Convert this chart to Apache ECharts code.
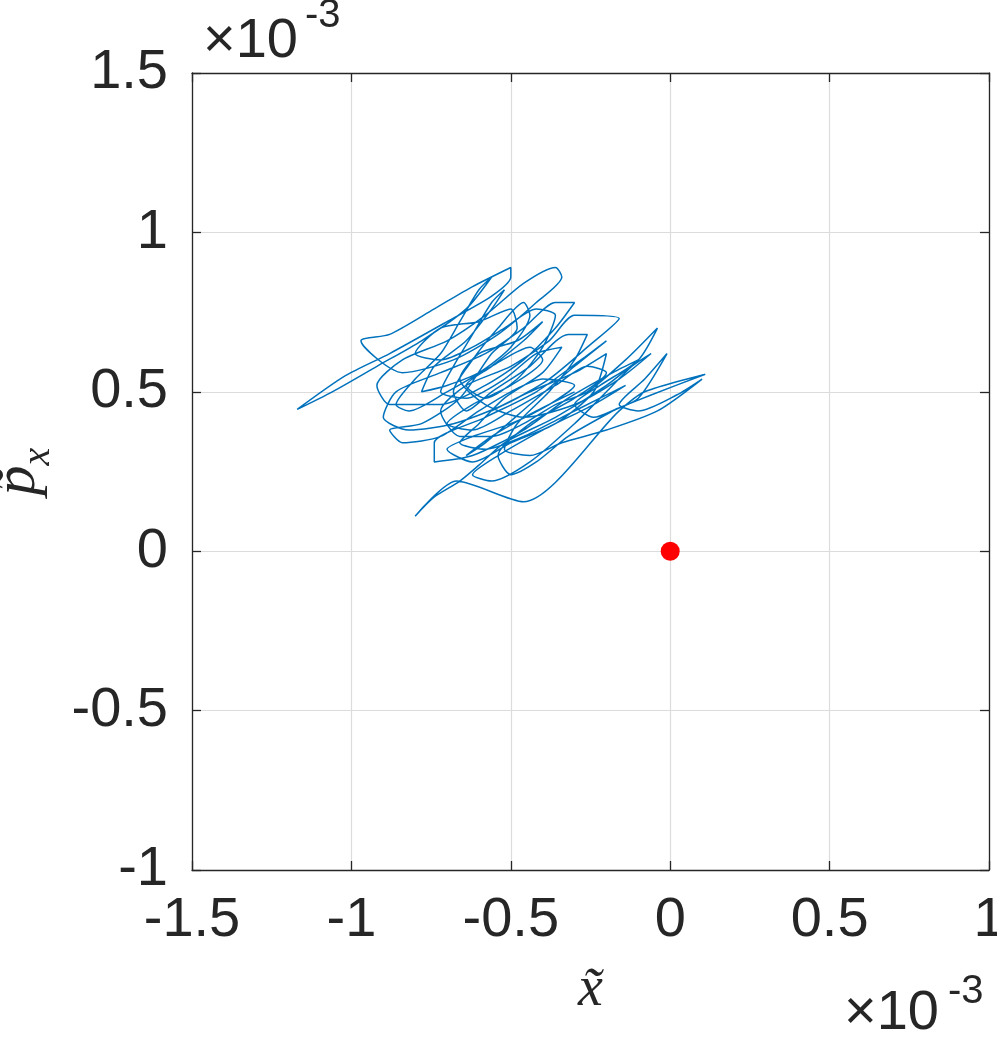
<!DOCTYPE html>
<html>
<head>
<meta charset="utf-8">
<script src="https://cdn.jsdelivr.net/npm/echarts@6/dist/echarts.min.js"></script>
<style>
  html, body { margin: 0; padding: 0; background: #fff; }
  #chart { width: 997px; height: 1039px; }
</style>
</head>
<body>
<div id="chart"></div>
<script>
// values in units of 1e-3
const xTicks = [-1.5, -1, -0.5, 0, 0.5, 1];
const yTicks = [-1, -0.5, 0, 0.5, 1, 1.5];

const trajX = [
  -0.30, -0.42, -0.56, -0.64, -0.58, -0.44, -0.30, -0.20, -0.28, -0.42,
  -0.58, -0.74, -0.74, -0.62, -0.46, -0.32, -0.18, -0.10, -0.20, -0.36,
  -0.52, -0.60, -0.66, -0.74, -0.80, -0.67, -0.46, -0.16, -0.08, 0.11,
  -0.06, -0.16, -0.24, -0.30, -0.22, -0.10, -0.04, -0.14, -0.26, -0.36,
  -0.46, -0.56, -0.66, -0.72, -0.64, -0.50, -0.38, -0.30, -0.16, -0.26,
  -0.38, -0.52, -0.68, -0.82, -0.90, -0.86, -0.72, -0.58, -0.46, -0.36,
  -0.30, -0.36, -0.46, -0.58, -0.72, -0.88, -0.92, -0.84, -0.70, -0.58,
  -0.46, -0.36, -0.34, -0.42, -0.54, -0.68, -0.84, -0.97, -0.88, -0.74,
  -0.62, -0.50, -0.50, -0.56, -0.70, -0.88, -1.02, -1.17, -1.06, -0.92,
  -0.78, -0.64, -0.56, -0.60, -0.66, -0.72, -0.80, -0.86, -0.82, -0.70,
  -0.56, -0.44, -0.40, -0.50, -0.62, -0.70, -0.62, -0.50, -0.36, -0.26,
  -0.20, -0.30, -0.44, -0.54, -0.50, -0.42, -0.32, -0.18, -0.10, -0.01,
  -0.08, -0.16, -0.10, 0.02, 0.10, -0.04, -0.20, -0.34, -0.44, -0.52,
  -0.48, -0.38, -0.30, -0.26, -0.32, -0.44, -0.56, -0.64, -0.68, -0.62,
  -0.54, -0.46, -0.44, -0.50, -0.60, -0.70, -0.78, -0.74, -0.64, -0.56,
  -0.52, -0.56, -0.62, -0.68, -0.72, -0.64, -0.52, -0.42, -0.34, -0.40,
  -0.52, -0.60, -0.66, -0.58, -0.46, -0.34, -0.22, -0.14, -0.24, -0.40,
  -0.54, -0.62, -0.56, -0.44, -0.30, -0.20, -0.12, -0.06, -0.16, -0.30,
  -0.46, -0.58, -0.66, -0.60, -0.48, -0.40, -0.46, -0.56, -0.64, -0.58,
  -0.48, -0.40, -0.36, -0.42, -0.52, -0.62, -0.72, -0.80, -0.72, -0.60,
  -0.50, -0.48, -0.56, -0.66, -0.78, -0.88, -0.84, -0.72, -0.60, -0.50,
  -0.40, -0.30, -0.38, -0.50, -0.62, -0.70, -0.62, -0.50, -0.36, -0.24,
  -0.20, -0.30, -0.44, -0.56
];
const trajY = [
  0.50, 0.44, 0.36, 0.30, 0.34, 0.46, 0.58, 0.66, 0.60, 0.50,
  0.42, 0.34, 0.28, 0.30, 0.38, 0.48, 0.56, 0.60, 0.52, 0.42,
  0.34, 0.27, 0.22, 0.17, 0.11, 0.22, 0.155, 0.44, 0.50, 0.555,
  0.49, 0.45, 0.42, 0.46, 0.52, 0.60, 0.70, 0.60, 0.50, 0.46,
  0.40, 0.36, 0.36, 0.44, 0.52, 0.58, 0.66, 0.74, 0.73, 0.64,
  0.54, 0.46, 0.40, 0.38, 0.42, 0.50, 0.56, 0.62, 0.70, 0.78,
  0.78, 0.70, 0.60, 0.52, 0.46, 0.46, 0.52, 0.60, 0.66, 0.74,
  0.84, 0.89, 0.86, 0.78, 0.68, 0.60, 0.56, 0.66, 0.68, 0.76,
  0.83, 0.89, 0.86, 0.80, 0.72, 0.62, 0.55, 0.445, 0.50, 0.58,
  0.66, 0.76, 0.86, 0.82, 0.72, 0.62, 0.54, 0.46, 0.44, 0.50,
  0.58, 0.64, 0.60, 0.52, 0.46, 0.40, 0.38, 0.44, 0.52, 0.58,
  0.56, 0.48, 0.40, 0.30, 0.24, 0.28, 0.36, 0.44, 0.48, 0.62,
  0.54, 0.46, 0.44, 0.49, 0.54, 0.44, 0.38, 0.34, 0.30, 0.32,
  0.40, 0.50, 0.60, 0.68, 0.68, 0.58, 0.50, 0.44, 0.50, 0.60,
  0.70, 0.78, 0.74, 0.64, 0.56, 0.52, 0.50, 0.58, 0.66, 0.76,
  0.82, 0.78, 0.68, 0.58, 0.50, 0.48, 0.54, 0.62, 0.64, 0.56,
  0.48, 0.40, 0.34, 0.32, 0.36, 0.42, 0.48, 0.52, 0.46, 0.38,
  0.30, 0.24, 0.22, 0.28, 0.40, 0.50, 0.58, 0.62, 0.54, 0.46,
  0.42, 0.46, 0.54, 0.62, 0.66, 0.72, 0.66, 0.58, 0.52, 0.48,
  0.54, 0.64, 0.74, 0.76, 0.70, 0.64, 0.60, 0.62, 0.70, 0.72,
  0.76, 0.70, 0.62, 0.48, 0.40, 0.38, 0.34, 0.36, 0.44, 0.50,
  0.54, 0.52, 0.46, 0.40, 0.36, 0.32, 0.28, 0.34, 0.40, 0.50,
  0.62, 0.56, 0.50, 0.44
];

const eqX = [0];
const eqY = [0];

const textColor = '#262626';
const sans = 'Liberation Sans';
const serif = 'Liberation Serif';

let chart = echarts.init(document.getElementById('chart'));

const axisCommon = {
  type: 'value',
  interval: 0.5,
  axisLine: { show: true, onZero: false, lineStyle: { color: textColor, width: 1.3 } },
  axisTick: { show: true, inside: true, length: 9, lineStyle: { color: textColor, width: 1.3 } }
};

let option = {
  backgroundColor: '#fff',
  animation: false,
  grid: { left: 192, top: 73, right: 8, bottom: 169, containLabel: false, outerBoundsMode: 'none' },
  xAxis: [
    Object.assign({}, axisCommon, {
      position: 'bottom',
      min: xTicks[0], max: xTicks[xTicks.length - 1],
      axisLabel: { fontSize: 56, fontFamily: sans, color: textColor, margin: 23 },
      splitLine: { show: true, lineStyle: { color: '#dcdcdc', width: 1.2 } },
      name: '{a|x\u0303}',
      nameLocation: 'middle',
      nameGap: 92,
      nameTextStyle: {
        rich: { a: { fontSize: 56, fontStyle: 'italic', fontFamily: serif, color: textColor } }
      }
    }),
    Object.assign({}, axisCommon, {
      position: 'top',
      min: xTicks[0], max: xTicks[xTicks.length - 1],
      axisLabel: { show: false },
      splitLine: { show: false }
    })
  ],
  yAxis: [
    Object.assign({}, axisCommon, {
      position: 'left',
      min: yTicks[0], max: yTicks[yTicks.length - 1],
      axisLabel: { fontSize: 56, fontFamily: sans, color: textColor, margin: 24 },
      splitLine: { show: true, lineStyle: { color: '#dcdcdc', width: 1.2 } },
      name: '{p|p\u0303}{s|x}',
      nameLocation: 'middle',
      nameRotate: 90,
      nameGap: 134,
      nameTextStyle: {
        rich: {
          p: { fontSize: 60, fontStyle: 'italic', fontFamily: serif, color: textColor, lineHeight: 60, verticalAlign: 'top' },
          s: { fontSize: 40, fontStyle: 'italic', fontFamily: serif, color: textColor, lineHeight: 70, verticalAlign: 'bottom' }
        }
      }
    }),
    Object.assign({}, axisCommon, {
      position: 'right',
      min: yTicks[0], max: yTicks[yTicks.length - 1],
      axisLabel: { show: false },
      splitLine: { show: false }
    })
  ],
  graphic: [
    { type: 'text', left: 203, top: 14, style: { text: '\u00d710', fontSize: 56, fontFamily: sans, fill: textColor } },
    { type: 'text', left: 305, top: -4, style: { text: '-3', fontSize: 40, fontFamily: sans, fill: textColor } },
    { type: 'text', left: 844, top: 986, style: { text: '\u00d710', fontSize: 56, fontFamily: sans, fill: textColor } },
    { type: 'text', left: 948, top: 972, style: { text: '-3', fontSize: 40, fontFamily: sans, fill: textColor } }
  ],
  series: [
    {
      name: 'trajectory',
      type: 'line',
      data: trajX.map((x, i) => [x, trajY[i]]),
      showSymbol: false,
      smooth: 0.25,
      lineStyle: { color: '#0072BD', width: 1.5 },
      z: 2
    },
    {
      name: 'equilibrium',
      type: 'scatter',
      data: eqX.map((x, i) => [x, eqY[i]]),
      symbolSize: 19,
      itemStyle: { color: '#ff0000', opacity: 1 },
      z: 3
    }
  ]
};

chart.setOption(option);
</script>
</body>
</html>
